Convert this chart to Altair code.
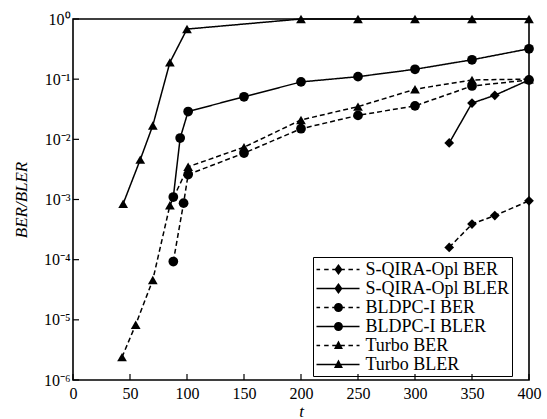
import altair as alt
import pandas as pd
import math

series_names = ["S-QIRA-Opl BER", "S-QIRA-Opl BLER", "BLDPC-I BER",
                "BLDPC-I BLER", "Turbo BER", "Turbo BLER"]

sqira_ber_t = [330, 350, 370, 400]
sqira_ber_v = [1.6e-4, 3.9e-4, 5.4e-4, 9.5e-4]

sqira_bler_t = [330, 350, 370, 400]
sqira_bler_v = [8.7e-3, 0.040, 0.054, 0.097]

bldpc_ber_t = [88, 97, 101, 150, 200, 250, 300, 350, 400]
bldpc_ber_v = [9.3e-5, 8.7e-4, 2.6e-3, 5.9e-3, 0.015, 0.025, 0.036, 0.077, 0.097]

bldpc_bler_t = [88, 94, 101, 150, 200, 250, 300, 350, 400]
bldpc_bler_v = [1.1e-3, 0.0105, 0.029, 0.051, 0.090, 0.110, 0.146, 0.21, 0.32]

turbo_ber_t = [43, 55, 70, 85, 101, 150, 200, 250, 300, 350, 400]
turbo_ber_v = [2.4e-6, 8.3e-6, 4.6e-5, 8.0e-4, 3.5e-3, 7.4e-3, 0.021, 0.035, 0.068, 0.097, 0.1]

turbo_bler_t = [44, 59, 70, 85, 100, 200, 250, 300, 350, 400]
turbo_bler_v = [8.5e-4, 4.6e-3, 1.7e-2, 0.19, 0.68, 1.0, 1.0, 1.0, 1.0, 1.0]

x_ticks = [0, 50, 100, 150, 200, 250, 300, 350, 400]
y_ticks = [1e-6, 1e-5, 1e-4, 1e-3, 1e-2, 1e-1, 1]
y_tick_labels = ["10⁻⁶", "10⁻⁵", "10⁻⁴", "10⁻³", "10⁻²", "10⁻¹", "10⁰"]

rows = []
for name, ts, vs in zip(series_names,
                        [sqira_ber_t, sqira_bler_t, bldpc_ber_t, bldpc_bler_t, turbo_ber_t, turbo_bler_t],
                        [sqira_ber_v, sqira_bler_v, bldpc_ber_v, bldpc_bler_v, turbo_ber_v, turbo_bler_v]):
    for i, (t, v) in enumerate(zip(ts, vs)):
        rows.append({"series": name, "t": t, "v": v, "order": i})
df = pd.DataFrame(rows)

W, H = 456, 361
FONT = "Liberation Serif"

expr = "''"
for val, lab in zip(y_ticks, y_tick_labels):
    e = int(round(math.log10(val)))
    expr = f"(abs(log(datum.value)/LN10 - ({e})) < 0.01 ? '{lab}' : {expr})"

xscale = alt.Scale(domain=[0, 400], nice=False, zero=False)
yscale = alt.Scale(type="log", domain=[1e-6, 1], nice=False)

dash_range = [[5, 3], [1, 0], [5, 3], [1, 0], [5, 3], [1, 0]]
shape_range = ["diamond", "diamond", "circle", "circle", "triangle-up", "triangle-up"]

xenc = alt.X("t:Q", scale=xscale,
             axis=alt.Axis(values=x_ticks, title="t", titleFontStyle="italic",
                           titleFont=FONT, titleFontSize=17, titleFontWeight="normal",
                           titlePadding=2, labelFont=FONT, labelFontSize=16,
                           labelPadding=5, labelFlush=False, ticks=False, tickSize=0,
                           grid=False, domain=False, labelColor="black", titleColor="black"))
yenc = alt.Y("v:Q", scale=yscale,
             axis=alt.Axis(values=y_ticks, labelExpr=expr, title="BER/BLER",
                           titleFontStyle="italic", titleFont=FONT, titleFontSize=17,
                           titleFontWeight="normal", titlePadding=13,
                           labelFont=FONT, labelFontSize=16, labelPadding=3,
                           labelFlush=False,
                           ticks=False, tickSize=0, grid=False, domain=False,
                           labelColor="black", titleColor="black"))

base = alt.Chart(df)

lines = base.mark_line(color="black", strokeWidth=1.5).encode(
    x=xenc, y=yenc,
    detail="series:N",
    order="order:Q",
    strokeDash=alt.StrokeDash("series:N", scale=alt.Scale(domain=series_names, range=dash_range), legend=None),
)

points = base.mark_point(filled=True, color="black", opacity=1).encode(
    x="t:Q", y="v:Q",
    shape=alt.Shape("series:N", scale=alt.Scale(domain=series_names, range=shape_range), legend=None),
    size=alt.value(95),
)

# legend symbols: unit = 9 px (symbolSize 324); line samples drawn as thin filled bars
hh = 0.085


def bar(a, b):
    return f"M{a},{-hh}H{b}V{hh}H{a}Z"


L = bar(-1, 3.78)
D = "".join(bar(a, b) for a, b in [(-1, -0.6), (-0.15, 0.35), (0.75, 2.15), (2.55, 3.05), (3.45, 3.78)])
cx = 1.44
dia = f"M{cx},-0.6L{cx+0.45},0L{cx},0.6L{cx-0.45},0Z"
cir = f"M{cx-0.5},0A0.5,0.5,0,1,1,{cx+0.5},0A0.5,0.5,0,1,1,{cx-0.5},0Z"
tri = f"M{cx},-0.55L{cx+0.5},0.4L{cx-0.5},0.4Z"
legend_paths = [D + dia, L + dia, D + cir, L + cir, D + tri, L + tri]

legend_layer = base.mark_point(filled=True, color="black", opacity=1).encode(
    x="t:Q", y="v:Q",
    shape=alt.Shape("series:N", scale=alt.Scale(domain=series_names, range=legend_paths),
                    legend=alt.Legend(title=None, orient="none", legendX=240, legendY=238,
                                      labelFont=FONT, labelFontSize=18, labelColor="black",
                                      labelOffset=30, symbolSize=324,
                                      symbolFillColor="black",
                                      rowPadding=-1.6, padding=2.5, strokeColor="black",
                                      labelLimit=300)),
).transform_filter("false")

tick_df_y = pd.DataFrame({"v": y_ticks})
tick_df_x = pd.DataFrame({"t": x_ticks})

yticks = alt.Chart(tick_df_y).mark_rule(color="black", strokeWidth=1.2).encode(
    y="v:Q", x=alt.value(0), x2=alt.value(6))
xticks = alt.Chart(tick_df_x).mark_rule(color="black", strokeWidth=1.2).encode(
    x="t:Q", y=alt.value(H), y2=alt.value(H - 6))

chart = alt.layer(lines, points, legend_layer, yticks, xticks).resolve_scale(
    shape="independent"
).properties(
    width=W, height=H,
    autosize="none",
    padding={"left": 73, "top": 19, "right": 18, "bottom": 39},
    background="white",
).configure_view(stroke="black", strokeWidth=1.6)

chart.save("out.html", embed_options={"renderer": "svg", "actions": False})
